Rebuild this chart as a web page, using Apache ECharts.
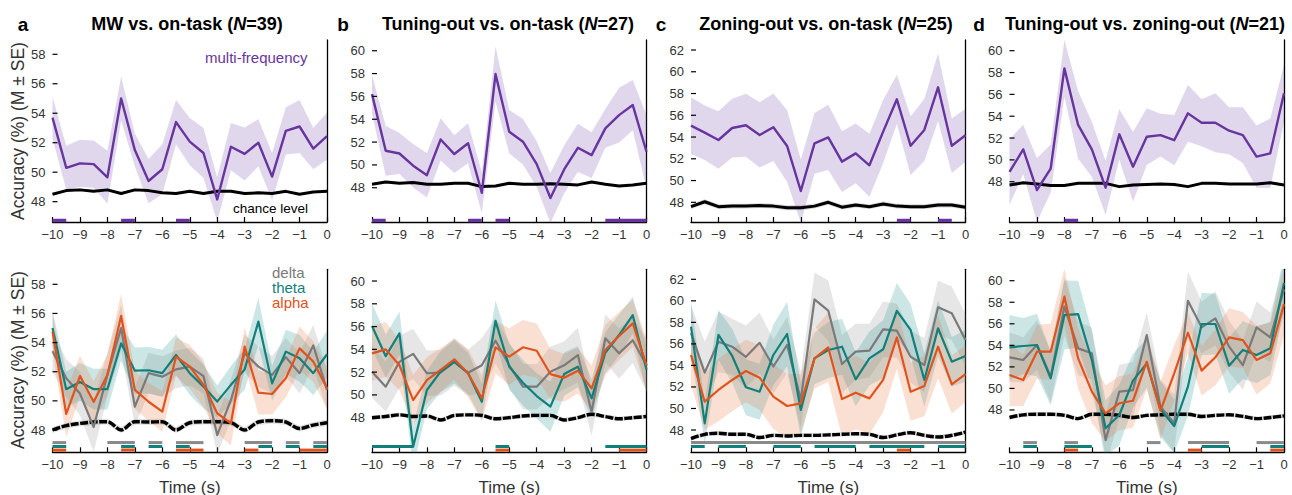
<!DOCTYPE html>
<html><head><meta charset="utf-8">
<script src="https://cdn.jsdelivr.net/npm/echarts@6/dist/echarts.min.js"></script>
<style>html,body{margin:0;padding:0;background:#fff}#c{width:1292px;height:495px}</style>
</head><body><div id="c"></div>
<script>
// ---------- DATA ----------
const times = [-10,-9.5,-9,-8.5,-8,-7.5,-7,-6.5,-6,-5.5,-5,-4.5,-4,-3.5,-3,-2.5,-2,-1.5,-1,-0.5,0];
const xTicks = [-10,-9,-8,-7,-6,-5,-4,-3,-2,-1,0];
const panelLetters = ['a','b','c','d'];
const panelTitles = ['MW vs. on-task','Tuning-out vs. on-task','Zoning-out vs. on-task','Tuning-out vs. zoning-out'];
const panelN = [39,27,25,21];
const yTicksA = [48,50,52,54,56,58];
const yTicksB = [48,50,52,54,56,58,60];
const yTicksC = [48,50,52,54,56,58,60,62];
const yTicksD = [48,50,52,54,56,58,60];

// top row: multi-frequency
const mfA = [53.7,50.3,50.6,50.55,49.65,55.0,51.5,49.4,50.2,53.4,52.07,51.3,48.15,51.73,51.24,52.0,49.7,52.8,53.1,51.6,52.45];
const mfSeA = [1.4,1.5,1.6,1.6,1.8,1.5,1.1,1.5,1.7,1.5,1.6,1.7,1.5,1.6,1.8,1.6,1.6,1.6,1.8,1.4,1.6];
const chanceTopA = [48.5,48.75,48.8,48.7,48.8,48.55,48.8,48.75,48.6,48.55,48.7,48.55,48.7,48.7,48.55,48.6,48.55,48.7,48.5,48.65,48.7];
const mfB = [56.2,51.24,51.0,49.93,49.1,52.23,50.95,51.9,47.56,57.96,52.9,52.03,50.07,47.1,49.6,51.5,50.86,53.2,54.36,55.24,51.15];
const mfSeB = [1.7,2.2,1.8,1.9,1.95,1.85,1.65,1.75,1.8,2.4,1.9,2.0,2.0,2.2,2.1,2.1,2.0,1.7,2.4,2.2,3.2];
const chanceTopB = [48.3,48.5,48.4,48.45,48.3,48.3,48.4,48.4,48.1,48.15,48.4,48.3,48.3,48.35,48.3,48.25,48.5,48.3,48.15,48.25,48.4];
const mfC = [55.05,54.4,53.73,54.83,55.08,54.19,54.9,53.18,49.04,53.42,53.97,51.74,52.5,51.4,54.5,57.47,53.2,54.65,58.57,53.2,54.16];
const mfSeC = [2.6,2.5,2.65,2.7,2.9,3.0,3.1,3.3,2.9,2.8,3.0,2.8,2.75,2.9,2.9,2.25,2.7,2.85,3.1,2.5,2.45];
const chanceTopC = [47.6,48.05,47.6,47.65,47.65,47.7,47.65,47.5,47.5,47.65,48.0,47.55,47.75,47.6,47.85,47.65,47.6,47.6,47.75,47.75,47.55];
const mfD = [48.9,50.96,47.24,49.2,58.38,53.2,50.96,47.45,52.34,49.37,52.12,52.27,51.8,54.26,53.4,53.4,52.67,52.27,50.3,50.6,56.1];
const mfSeD = [3.0,2.25,2.9,2.2,2.6,3.1,2.5,2.5,2.3,3.2,2.6,1.95,2.3,2.6,2.15,2.7,2.15,2.55,2.85,3.2,2.6];
const chanceTopD = [47.7,47.9,47.8,47.65,47.65,47.85,47.85,47.85,47.55,47.7,47.75,47.8,47.75,47.55,47.85,47.85,47.8,47.8,47.8,47.9,47.7];

// bottom row: delta / theta / alpha
const deltaA = [53.4,51.55,50.5,48.2,51.8,55.0,49.6,51.9,51.66,52.16,52.35,51.7,47.65,50.06,53.26,52.35,51.78,53.0,51.9,53.8,50.75];
const deltaSeA = [1.4,1.3,1.5,1.7,1.5,1.6,1.3,1.4,1.4,1.3,1.3,1.2,1.3,1.4,1.3,1.4,1.3,1.3,1.4,1.4,1.4];
const thetaA = [55.0,50.8,51.3,50.8,50.8,53.95,52.07,52.1,51.9,53.15,51.9,50.98,49.95,51.1,52.16,55.44,51.2,53.38,52.92,51.9,53.2];
const thetaSeA = [1.2,1.2,1.3,1.4,1.4,1.2,1.6,1.6,1.6,1.4,1.5,1.5,1.1,1.3,1.4,1.6,1.2,1.5,1.6,1.5,1.6];
const alphaA = [54.75,49.1,51.7,49.94,51.78,55.83,50.75,49.94,49.26,53.03,52.35,51.1,49.15,48.46,53.72,50.56,50.47,51.55,53.6,52.7,50.86];
const alphaSeA = [1.3,1.6,1.4,1.4,1.4,1.5,1.3,1.3,1.4,1.3,1.5,1.5,1.4,1.5,1.3,1.5,1.4,1.3,1.5,1.4,1.4];
const chanceBotA = [48.0,48.3,48.45,48.55,48.57,48.0,48.57,48.55,48.57,48.0,48.5,48.57,48.57,48.5,48.0,48.55,48.64,48.55,48.1,48.34,48.5];

const deltaB = [52.04,50.72,52.9,53.6,51.9,51.95,52.9,51.95,52.6,54.76,52.6,50.72,50.72,52.04,52.6,53.5,48.5,54.97,53.65,54.8,52.6];
const deltaSeB = [2.3,2.2,2.3,2.2,2.0,2.0,2.1,2.0,2.4,2.0,2.0,2.0,2.0,2.2,2.1,2.4,2.1,2.1,2.2,2.0,2.3];
const thetaB = [56.05,53.4,55.4,45.45,50.43,52.04,52.9,51.9,49.4,56.5,52.48,51.07,49.9,48.97,51.83,52.48,49.7,53.7,55.26,57.0,52.2];
const thetaSeB = [2.0,1.9,1.9,1.8,1.7,1.8,1.9,1.8,1.6,1.8,2.0,2.0,2.0,2.2,1.9,1.8,1.7,1.8,1.8,1.6,2.0];
const alphaB = [53.65,54.0,52.6,49.55,51.3,52.19,53.12,51.9,49.7,54.18,53.36,54.18,53.88,51.83,51.5,52.13,50.58,53.94,55.17,56.28,52.6];
const alphaSeB = [2.4,2.4,2.2,2.2,2.0,1.9,1.8,2.1,2.0,2.3,2.5,2.4,2.4,2.2,2.1,2.0,2.0,2.2,2.1,2.1,2.3];
const chanceBotB = [48.0,48.1,48.25,48.1,48.15,47.8,48.2,48.25,48.2,47.9,48.0,48.15,48.2,48.2,47.8,48.0,48.3,48.1,47.9,48.0,48.1];

const deltaC = [57.0,53.33,56.2,55.74,54.8,56.1,53.9,55.9,50.8,60.14,59.1,54.13,55.28,55.37,57.35,57.23,54.8,54.04,59.4,58.84,56.36];
const deltaSeC = [2.6,2.9,2.8,2.6,2.9,2.8,2.5,2.6,2.6,2.5,2.8,2.7,2.6,2.5,2.6,2.5,2.4,2.5,2.5,2.5,2.4];
const thetaC = [57.6,48.62,56.83,54.88,51.97,51.56,54.97,56.92,49.86,54.66,55.43,55.74,52.71,54.66,55.5,59.06,57.3,52.65,57.45,54.35,54.88];
const thetaSeC = [2.4,1.9,2.3,2.5,2.6,2.6,2.8,3.0,2.5,2.4,2.6,2.6,2.5,2.5,2.7,2.6,2.4,2.5,2.6,2.3,2.4];
const alphaC = [54.97,50.63,51.72,52.65,53.48,52.86,51.1,50.23,50.48,54.66,55.68,50.88,51.47,50.94,52.65,56.6,51.56,52.09,55.74,52.24,53.2];
const alphaSeC = [2.8,2.6,2.9,2.9,2.9,3.0,3.0,3.0,2.7,2.8,3.2,3.5,3.4,3.3,3.0,2.9,2.7,2.8,2.9,2.7,2.6];
const chanceBotC = [47.2,47.6,47.7,47.6,47.6,47.3,47.5,47.45,47.5,47.5,47.55,47.6,47.65,47.6,47.3,47.55,47.75,47.5,47.35,47.5,47.8];

const deltaD = [52.89,52.64,54.03,51.09,57.6,53.72,53.26,45.2,49.7,49.85,54.96,48.3,46.76,58.14,55.67,56.5,53.88,52.17,55.67,54.74,59.2];
const deltaSeD = [2.3,2.1,2.3,2.4,2.7,2.5,2.4,2.4,2.5,2.6,2.1,2.5,2.7,2.7,2.4,2.5,2.4,2.3,2.4,2.3,2.3];
const thetaD = [53.81,53.94,54.03,50.94,56.81,56.9,52.64,46.3,47.53,50.72,52.33,48.06,46.5,50.16,55.98,55.98,52.11,53.57,53.1,53.72,59.8];
const thetaSeD = [3.0,2.6,2.9,2.5,3.2,3.1,2.7,2.6,2.8,2.5,2.3,2.6,2.5,2.7,2.9,2.8,2.6,2.7,2.6,2.5,2.6];
const alphaD = [51.25,50.78,53.41,53.41,58.52,52.79,49.7,47.69,48.62,48.86,52.48,47.94,51.4,55.17,51.65,52.89,54.74,54.49,52.64,53.26,57.83];
const alphaSeD = [2.9,2.4,2.5,2.6,2.6,2.8,2.9,2.6,2.5,2.5,2.5,2.7,2.6,1.9,2.3,2.6,2.7,2.6,3.2,2.8,2.9];
const chanceBotD = [47.3,47.55,47.6,47.6,47.5,47.2,47.6,47.6,47.5,47.3,47.5,47.55,47.6,47.6,47.4,47.5,47.55,47.4,47.2,47.3,47.45];

// significance intervals (s)
const sigMfA = [[-10,-9.5],[-7.5,-7],[-5.5,-5]];
const sigMfB = [[-10,-9.5],[-6.5,-6],[-5.5,-5],[-1.5,0]];
const sigMfC = [[-2.5,-2],[-1,-0.5]];
const sigMfD = [[-8,-7.5]];
const sigDeltaA = [[-10,-9.5],[-8,-7],[-6.5,-6],[-5.5,-4.5],[-3,-2],[-1.5,-1],[-0.5,0]];
const sigThetaA = [[-10,-9.5],[-7.5,-7],[-6.5,-6],[-5.5,-5],[-2.5,-2],[-1.5,-1],[-0.5,0]];
const sigAlphaA = [[-10,-9.5],[-7.5,-7],[-5.5,-4.5],[-3,-2.5],[-1,0]];
const sigDeltaB = [];
const sigThetaB = [[-10,-8.5],[-5.5,-5],[-1.5,0]];
const sigAlphaB = [[-5.5,-5],[-1,0]];
const sigDeltaC = [[-10,0]];
const sigThetaC = [[-10,-9.5],[-9,-8],[-7,-6],[-5.5,-4],[-3.5,-1.5],[-1,0]];
const sigAlphaC = [[-2.5,-2]];
const sigDeltaD = [[-9.5,-9],[-8,-7.5],[-5,-4.5],[-3.5,-2],[-1,0]];
const sigThetaD = [[-9.5,-9],[-8,-7],[-3,-2],[-0.5,0]];
const sigAlphaD = [[-8,-7.5],[-3.5,-3],[-0.5,0]];

// ---------- STYLE / LAYOUT ----------
const FONT = '"Liberation Sans", Arial, Helvetica, sans-serif';
const C_MF = '#68349e', C_MF_BAND = 'rgba(112,72,172,0.22)';
const C_DELTA = '#7a7a7a', C_DELTA_BAND = 'rgba(150,150,150,0.24)';
const C_THETA = '#12807a', C_THETA_BAND = 'rgba(40,150,150,0.24)';
const C_ALPHA = '#e0531c', C_ALPHA_BAND = 'rgba(236,120,70,0.24)';
const lefts = [52.5, 372, 691, 1009.5];
const gridW = 274.5;
const rowTop = [40, 269.3], rowH = [182, 183];
const yRangeTop = [[46.62,58.97],[45.0,60.94],[46.19,62.92],[44.31,60.98]];
const yRangeBot = [[46.47,59.03],[44.96,61.03],[45.93,62.93],[44.07,61.06]];
const yTickSets = [yTicksA, yTicksB, yTicksC, yTicksD];

const grids = [], xAxes = [], yAxes = [], series = [];
function minusFmt(v){ return String(v).replace('-', '\u2212'); }
function addGrid(left, top, h, yr, yticks){
  const gi = grids.length;
  grids.push({left:left, top:top, width:gridW, height:h});
  const axLine = {show:true, lineStyle:{color:'#000', width:1.3}};
  xAxes.push({type:'value', gridIndex:gi, min:-10, max:0, interval:1, axisLine:axLine,
    axisTick:{show:true, inside:true, length:5, lineStyle:{color:'#000', width:1.2}}, splitLine:{show:false},
    axisLabel:{fontFamily:FONT, fontSize:13, color:'#333', margin:6, formatter:minusFmt}});
  yAxes.push({type:'value', gridIndex:gi, min:yr[0], max:yr[1], axisLine:axLine,
    axisTick:{show:false}, splitLine:{show:false},
    axisLabel:{customValues:yticks, fontFamily:FONT, fontSize:13, color:'#333', margin:7}});
  // y tick marks (inward) drawn at the tick values
  series.push({type:'custom', xAxisIndex:gi, yAxisIndex:gi, z:6, silent:true, clip:false,
    data:yticks.map(v=>[-10, v]), encode:{x:0, y:1},
    renderItem:function(params, api){
      const p = api.coord([api.value(0), api.value(1)]);
      return {type:'line', shape:{x1:p[0], y1:p[1], x2:p[0]+5, y2:p[1]}, style:{stroke:'#000', lineWidth:1.2}};
    }});
  return gi;
}
function band(gi, mean, se, fill, z){
  const pts = times.map((t,k)=>[t, mean[k]-se[k], mean[k]+se[k]]);
  series.push({type:'custom', xAxisIndex:gi, yAxisIndex:gi, z:z, silent:true, clip:true,
    data:pts, encode:{x:0, y:[1,2]},
    renderItem:function(params, api){
      if (params.dataIndex !== 0) return null;
      const up = pts.map(p=>api.coord([p[0], p[2]]));
      const lo = pts.map(p=>api.coord([p[0], p[1]])).reverse();
      return {type:'polygon', shape:{points:up.concat(lo)}, style:{fill:fill}};
    }});
}
function line(gi, vals, color, width, z, type, smooth){
  series.push({type:'line', xAxisIndex:gi, yAxisIndex:gi, z:z, silent:true, symbol:'none', showSymbol:false,
    smooth:smooth||false,
    data:times.map((t,k)=>[t, vals[k]]), lineStyle:{color:color, width:width, type:type||'solid', cap:'butt', join:'round'}});
}
function sig(gi, ivs, color, ymin, offset, thick){
  if (!ivs.length) return;
  series.push({type:'custom', xAxisIndex:gi, yAxisIndex:gi, z:6, silent:true, clip:false,
    data:ivs.map(iv=>[iv[0], iv[1], ymin]), encode:{x:[0,1], y:2},
    renderItem:function(params, api){
      const a = api.coord([api.value(0), api.value(2)]);
      const b = api.coord([api.value(1), api.value(2)]);
      return {type:'rect', shape:{x:a[0], y:a[1]+offset-thick/2, width:b[0]-a[0], height:thick}, style:{fill:color}};
    }});
}

const topData = [
  [mfA, mfSeA, chanceTopA, sigMfA, 0],
  [mfB, mfSeB, chanceTopB, sigMfB, 0],
  [mfC, mfSeC, chanceTopC, sigMfC, 0.22],
  [mfD, mfSeD, chanceTopD, sigMfD, 0]
];
const botData = [
  [deltaA, deltaSeA, thetaA, thetaSeA, alphaA, alphaSeA, chanceBotA, sigDeltaA, sigThetaA, sigAlphaA],
  [deltaB, deltaSeB, thetaB, thetaSeB, alphaB, alphaSeB, chanceBotB, sigDeltaB, sigThetaB, sigAlphaB],
  [deltaC, deltaSeC, thetaC, thetaSeC, alphaC, alphaSeC, chanceBotC, sigDeltaC, sigThetaC, sigAlphaC],
  [deltaD, deltaSeD, thetaD, thetaSeD, alphaD, alphaSeD, chanceBotD, sigDeltaD, sigThetaD, sigAlphaD]
];

for (let p=0; p<4; p++){
  const d = topData[p];
  const gi = addGrid(lefts[p], rowTop[0], rowH[0], yRangeTop[p], yTickSets[p]);
  band(gi, d[0], d[1], C_MF_BAND, 1);
  if (d[4] > 0) band(gi, d[2], d[2].map(()=>d[4]), 'rgba(120,120,120,0.3)', 1);
  line(gi, d[2], '#000', 3, 3);
  line(gi, d[0], C_MF, 2.4, 4);
  sig(gi, d[3], C_MF, yRangeTop[p][0], -1.5, 3.5);
}
for (let p=0; p<4; p++){
  const d = botData[p];
  const gi = addGrid(lefts[p], rowTop[1], rowH[1], yRangeBot[p], yTickSets[p]);
  band(gi, d[0], d[1], C_DELTA_BAND, 1);
  band(gi, d[2], d[3], C_THETA_BAND, 1);
  band(gi, d[4], d[5], C_ALPHA_BAND, 1);
  band(gi, d[6], d[6].map(()=>0.2), 'rgba(120,120,120,0.22)', 1);
  line(gi, d[6], '#000', 3.4, 3, [8,1.5], 0.35);
  line(gi, d[0], C_DELTA, 2.2, 4);
  line(gi, d[2], C_THETA, 2.2, 4);
  line(gi, d[4], C_ALPHA, 2.2, 4);
  const ymin = yRangeBot[p][0];
  sig(gi, d[7], '#8a8a8a', ymin, -9.7, 3);
  sig(gi, d[8], C_THETA, ymin, -5.8, 3);
  sig(gi, d[9], C_ALPHA, ymin, -2.2, 3);
}

// ---------- TEXT ----------
const letterX = [23, 343, 661, 979];
const titleX = [187, 508, 826, 1145];
const graphics = [];
for (let p=0; p<4; p++){
  graphics.push({type:'text', x:letterX[p], y:24, style:{text:panelLetters[p], fontFamily:FONT, fontWeight:'bold', fontSize:19, fill:'#000', align:'center', verticalAlign:'middle'}});
  graphics.push({type:'text', x:titleX[p], y:24, style:{
    text:'{t|' + panelTitles[p] + ' (}{i|N}{t|=' + panelN[p] + ')}',
    rich:{t:{fontFamily:FONT, fontWeight:'bold', fontSize:18, fill:'#000'}, i:{fontFamily:FONT, fontWeight:'bold', fontStyle:'italic', fontSize:18, fill:'#000'}},
    align:'center', verticalAlign:'middle'}});
  graphics.push({type:'text', x:lefts[p]+gridW/2, y:487, style:{text:'Time (s)', fontFamily:FONT, fontSize:17, fill:'#333', align:'center', verticalAlign:'middle'}});
}
[131, 360].forEach(cy=>{
  graphics.push({type:'text', x:18, y:cy, rotation:Math.PI/2, style:{text:'Accuracy (%) (M \u00b1 SE)', fontFamily:FONT, fontSize:17.5, fill:'#333', align:'center', verticalAlign:'middle'}});
});
graphics.push({type:'text', x:205, y:57, style:{text:'multi-frequency', fontFamily:FONT, fontSize:15, fill:C_MF, align:'left', verticalAlign:'middle'}});
graphics.push({type:'text', x:233, y:208, style:{text:'chance level', fontFamily:FONT, fontSize:13.5, fill:'#000', align:'left', verticalAlign:'middle'}});
graphics.push({type:'text', x:272, y:272, style:{text:'delta', fontFamily:FONT, fontSize:15, fill:C_DELTA, align:'left', verticalAlign:'middle'}});
graphics.push({type:'text', x:272, y:287, style:{text:'theta', fontFamily:FONT, fontSize:15, fill:C_THETA, align:'left', verticalAlign:'middle'}});
graphics.push({type:'text', x:272, y:302, style:{text:'alpha', fontFamily:FONT, fontSize:15, fill:C_ALPHA, align:'left', verticalAlign:'middle'}});

const chart = echarts.init(document.getElementById('c'), null, {renderer:'svg'});
chart.setOption({
  animation:false,
  backgroundColor:'#fff',
  grid:grids, xAxis:xAxes, yAxis:yAxes, series:series, graphic:graphics
});
</script>
</body></html>
